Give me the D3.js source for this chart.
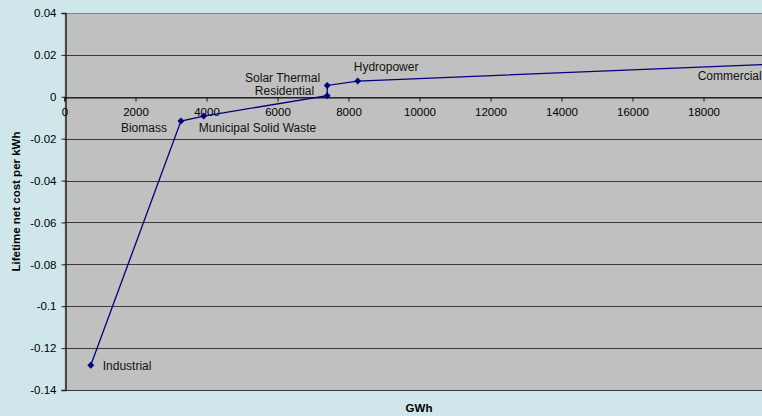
<!DOCTYPE html>
<html><head><meta charset="utf-8">
<script src="https://cdn.jsdelivr.net/npm/d3@7"></script>
<style>
html,body{margin:0;padding:0;overflow:hidden;background:#cfe7eb;}
svg{display:block;font-family:"Liberation Sans",Arial,sans-serif;}
</style></head><body>
<script>
const sectors = ["Industrial","Biomass","Municipal Solid Waste","Residential","Solar Thermal","Hydropower","Commercial"];
const gwh = [740, 3280, 3920, 7400, 7400, 8260, 19950];
const netCost = [-0.1282, -0.0116, -0.0092, 0.0005, 0.0054, 0.0075, 0.0156];
const xTicks = [0,2000,4000,6000,8000,10000,12000,14000,16000,18000];
const yTicks = [0.04,0.02,0,-0.02,-0.04,-0.06,-0.08,-0.1,-0.12,-0.14];
// label offsets relative to point [dx, dy(center), anchor]
const labelPos = [[12,0,"start"],[-14,7,"end"],[-5,12,"start"],[-13,-4.8,"end"],[-7,-8,"end"],[-4,-14,"start"],[-11,12,"end"]];

const W=762,H=416;
const svg=d3.select("body").append("svg").attr("width",W).attr("height",H);
svg.append("rect").attr("width",W).attr("height",H).attr("fill","#cfe7eb");
const m={l:64.5,t:13,r:774.5,b:390};
const x=d3.scaleLinear().domain([0,20000]).range([m.l,m.r]);
const y=d3.scaleLinear().domain([-0.14,0.04]).range([m.b,m.t]);

svg.append("defs").append("clipPath").attr("id","vc").append("rect").attr("x",0).attr("y",0).attr("width",W).attr("height",H);
const g=svg.append("g").attr("clip-path","url(#vc)");

g.append("rect").attr("x",m.l).attr("y",m.t).attr("width",W-m.l).attr("height",m.b-m.t).attr("fill","#c0c0c0");
g.selectAll("line.grid").data(yTicks.filter(d=>d!==0.04)).enter().append("line")
 .attr("x1",m.l).attr("x2",W).attr("y1",d=>Math.round(y(d))+0.5).attr("y2",d=>Math.round(y(d))+0.5)
 .attr("stroke","#3a3a3a").attr("stroke-width",1);
g.append("line").attr("x1",m.l).attr("x2",W).attr("y1",Math.round(y(0.04))+0.5).attr("y2",Math.round(y(0.04))+0.5).attr("stroke","#808080");

const yAxis=d3.axisLeft(y).tickValues(yTicks).tickSize(4).tickPadding(5)
 .tickFormat(d=>d===0?"0":String(+d.toFixed(2)));
const ya=g.append("g").attr("transform",`translate(${Math.round(m.l)+0.5},0)`).call(yAxis);
ya.select(".domain").attr("stroke","#222").attr("stroke-width",1.5);
ya.selectAll(".tick line").attr("stroke","#222");
ya.selectAll("text").attr("font-size",11.5).attr("fill","#000").attr("font-family","Liberation Sans, Arial, sans-serif");

const xAxis=d3.axisBottom(x).tickValues(xTicks).tickSize(4).tickPadding(6).tickFormat(d3.format("d"));
const xa=g.append("g").attr("transform",`translate(0,${Math.round(y(0))+0.5})`).call(xAxis);
xa.select(".domain").attr("stroke","#111").attr("stroke-width",1.2);
xa.selectAll(".tick line").attr("stroke","#111");
xa.selectAll("text").attr("font-size",11.5).attr("fill","#000").attr("font-family","Liberation Sans, Arial, sans-serif");

const pts=gwh.map((v,i)=>({x:v,y:netCost[i],name:sectors[i],lp:labelPos[i]}));
g.append("path").datum(pts).attr("fill","none").attr("stroke","#000080").attr("stroke-width",1.3)
 .attr("d",d3.line().x(d=>x(d.x)).y(d=>y(d.y)));
g.selectAll("path.mk").data(pts).enter().append("path")
 .attr("d",d3.symbol().type(d3.symbolSquare).size(24))
 .attr("transform",d=>`translate(${x(d.x)},${y(d.y)}) rotate(45)`).attr("fill","#000080");
g.selectAll("text.lbl").data(pts).enter().append("text")
 .attr("x",d=>x(d.x)+d.lp[0]).attr("y",d=>y(d.y)+d.lp[1]+4.3)
 .attr("text-anchor",d=>d.lp[2]).attr("font-size",12).attr("fill","#111").text(d=>d.name);

svg.append("text").attr("transform",`translate(20,${(m.t+m.b)/2}) rotate(-90)`).attr("text-anchor","middle")
 .attr("font-size",11.5).attr("font-weight","bold").text("Lifetime net cost per kWh");
svg.append("text").attr("x",419).attr("y",412).attr("text-anchor","middle")
 .attr("font-size",11.5).attr("font-weight","bold").text("GWh");
</script></body></html>
